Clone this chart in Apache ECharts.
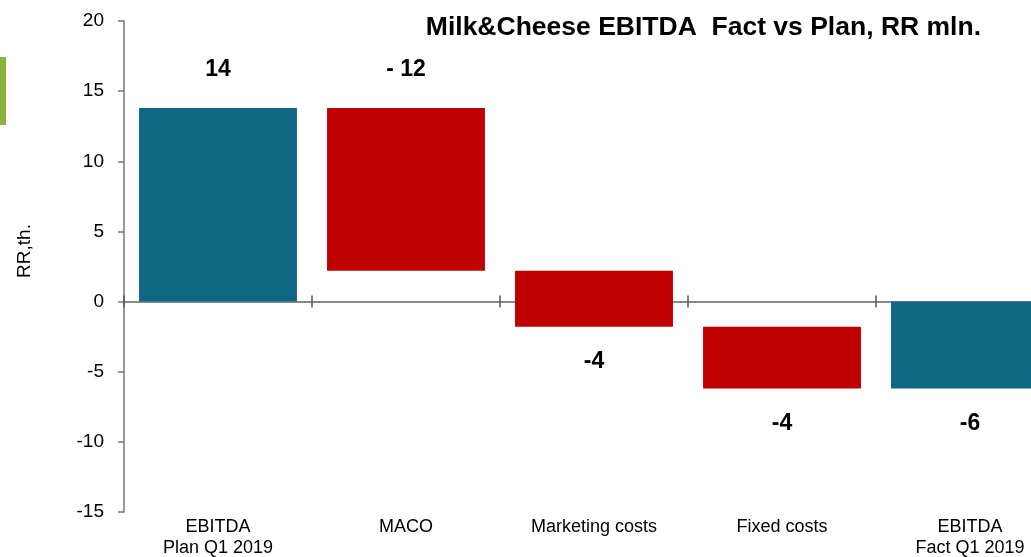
<!DOCTYPE html>
<html>
<head>
<meta charset="utf-8">
<script src="https://cdn.jsdelivr.net/npm/echarts@6/dist/echarts.min.js"></script>
<style>
  html, body { margin: 0; padding: 0; background: #fff; }
  #main { width: 1031px; height: 557px; }
</style>
</head>
<body>
<div id="main"></div>
<script>
var categories = ['EBITDA\nPlan Q1 2019', 'MACO', 'Marketing costs', 'Fixed costs', 'EBITDA\nFact Q1 2019'];
var barStart = [0, 13.8, 2.2, -1.8, 0];
var barEnd = [13.8, 2.2, -1.8, -6.2, -6.2];
var barLabels = ['14', '- 12', '-4', '-4', '-6'];
var labelSide = ['top', 'top', 'bottom', 'bottom', 'bottom'];
var barKind = ['total', 'delta', 'delta', 'delta', 'total'];
var yTicks = [-15, -10, -5, 0, 5, 10, 15, 20];

var chart = echarts.init(document.getElementById('main'));

var data = categories.map(function (c, i) {
    return [i, barStart[i], barEnd[i]];
});

var option = {
    animation: false,
    title: {
        text: 'Milk&Cheese EBITDA  Fact vs Plan, RR mln.',
        right: 45,
        top: 9,
        textStyle: { fontFamily: 'Liberation Sans', fontWeight: 'bold', fontSize: 26.5, color: '#000' }
    },
    graphic: [{
        type: 'rect',
        left: 0,
        top: 57,
        shape: { width: 6, height: 68 },
        style: { fill: '#8DB33F' }
    }, {
        // y axis name, rotated
        type: 'text',
        x: 25,
        y: 251,
        rotation: Math.PI / 2,
        style: {
            text: 'RR,th.',
            align: 'center',
            verticalAlign: 'middle',
            fontFamily: 'Liberation Sans',
            fontSize: 19,
            fill: '#000'
        }
    }],
    grid: { left: 124, right: -33, top: 21, bottom: 45, outerBoundsMode: 'none', containLabel: false },
    xAxis: [{
        type: 'category',
        data: categories,
        position: 'bottom',
        axisLine: { onZero: true, lineStyle: { color: '#666', width: 1.5 } },
        axisTick: { show: true, length: 6, lineStyle: { color: '#555', width: 1.5 } },
        axisLabel: { show: false }
    }, {
        // upper half of the crossing ticks on the zero line
        type: 'category',
        data: categories,
        position: 'bottom',
        offset: 0,
        axisLine: { onZero: false, show: false },
        axisTick: { show: true, inside: true, length: 6, lineStyle: { color: '#555', width: 1.5 } },
        axisLabel: { show: false }
    }, {
        type: 'category',
        data: categories,
        position: 'bottom',
        axisLine: { onZero: false, show: false },
        axisTick: { show: false },
        axisLabel: {
            margin: 5,
            fontFamily: 'Liberation Sans',
            fontSize: 18,
            lineHeight: 21,
            color: '#000'
        }
    }],
    yAxis: {
        type: 'value',
        min: yTicks[0],
        max: yTicks[yTicks.length - 1],
        interval: 5,
        axisLine: { show: true, lineStyle: { color: '#777', width: 1.5 } },
        axisTick: { show: true, length: 6, lineStyle: { color: '#777', width: 1.5 } },
        axisLabel: { fontFamily: 'Liberation Sans', fontSize: 19, color: '#000', margin: 20 },
        splitLine: { show: false }
    },
    series: [{
        type: 'custom',
        xAxisIndex: 0,
        data: data,
        encode: { x: 0, y: [1, 2] },
        renderItem: function (params, api) {
            var i = api.value(0);
            var a = api.coord([i, api.value(1)]);
            var b = api.coord([i, api.value(2)]);
            var w = api.size([1, 0])[0] * 0.84;
            var top = Math.min(a[1], b[1]);
            var bottom = Math.max(a[1], b[1]);
            var color = barKind[i] === 'total' ? '#106784' : '#C00000';
            var ly = labelSide[i] === 'top' ? top - 38 : bottom + 35;
            return {
                type: 'group',
                children: [{
                    type: 'rect',
                    shape: { x: a[0] - w / 2, y: top, width: w, height: bottom - top },
                    style: { fill: color }
                }, {
                    type: 'text',
                    x: a[0],
                    y: ly,
                    style: {
                        text: barLabels[i],
                        align: 'center',
                        verticalAlign: 'middle',
                        fontFamily: 'Liberation Sans',
                        fontWeight: 'bold',
                        fontSize: 23,
                        fill: '#000'
                    }
                }]
            };
        }
    }]
};
chart.setOption(option);

// move the inside-tick axis up onto the zero line
var zeroY = chart.convertToPixel({ yAxisIndex: 0 }, 0);
var bottomY = chart.convertToPixel({ yAxisIndex: 0 }, yTicks[0]);
chart.setOption({ xAxis: [{}, { offset: -(bottomY - zeroY) }, {}] });
</script>
</body>
</html>
